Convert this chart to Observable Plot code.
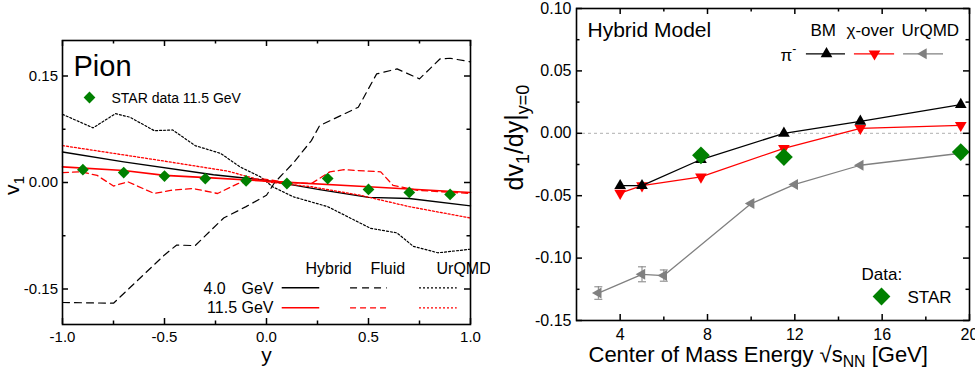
<!DOCTYPE html>
<html><head><meta charset="utf-8">
<script src="https://cdn.jsdelivr.net/npm/d3@7"></script>
<script src="https://cdn.jsdelivr.net/npm/@observablehq/plot@0.6"></script>
<style>
html,body{margin:0;padding:0;background:#fff;}
#wrap{position:relative;width:975px;height:376px;overflow:hidden;background:#fff;}
#wrap svg{position:absolute;top:0;}
</style></head><body><div id="wrap"></div>
<script>
// ===== Left panel: pion v1 versus rapidity y =====
const yHybrid40 = [-1, -0.7, -0.26, 0, 0.26, 0.5, 0.7, 1.0];
const v1Hybrid40 = [0.043, 0.029, 0.011, 0.003, -0.010, -0.021, -0.0225, -0.033];
const yFluid40 = [-1, -0.75, -0.5, -0.44, -0.35, -0.21, -0.1, 0.0, 0.04, 0.13, 0.22, 0.26, 0.45, 0.54, 0.64, 0.75, 0.85, 0.9, 1.0];
const v1Fluid40 = [-0.169, -0.170, -0.102, -0.088, -0.089, -0.050, -0.034, -0.018, 0.0, 0.027, 0.059, 0.080, 0.106, 0.153, 0.160, 0.146, 0.174, 0.175, 0.170];
const yUrqmd40 = [-1, -0.85, -0.74, -0.67, -0.55, -0.46, -0.35, -0.225, -0.13, -0.03, 0.03, 0.13, 0.3, 0.51, 0.64, 0.72, 0.84, 1.0];
const v1Urqmd40 = [0.096, 0.077, 0.097, 0.092, 0.073, 0.074, 0.052, 0.041, 0.022, 0.008, -0.006, -0.020, -0.034, -0.0645, -0.071, -0.090, -0.099, -0.094];
const yHybrid115 = [-1, -0.7, -0.5, -0.27, 0, 0.5, 1.0];
const v1Hybrid115 = [0.022, 0.017, 0.010, 0.0065, 0.002, -0.006, -0.014];
const yFluid115 = [-1, -0.91, -0.83, -0.75, -0.68, -0.55, -0.47, -0.36, -0.24, -0.14, -0.03, 0.1, 0.22, 0.31, 0.38, 0.56, 0.62, 0.74, 1.0];
const v1Fluid115 = [0.014, 0.015, 0.010, -0.005, 0.001, -0.0155, -0.011, -0.0085, -0.0155, -0.0015, 0.0056, 0.0, -0.0015, 0.015, 0.018, 0.015, -0.004, -0.011, -0.0155];
const yUrqmd115 = [-1, -0.52, -0.19, 0, 0.22, 0.46, 0.7, 1.0];
const v1Urqmd115 = [0.052, 0.031, 0.016, 0.001, -0.006, -0.018, -0.034, -0.050];
const yStar115 = [-0.9, -0.7, -0.5, -0.3, -0.1, 0.1, 0.3, 0.5, 0.7, 0.9];
const v1Star115 = [0.018, 0.014, 0.009, 0.0056, 0.0023, -0.0014, 0.0056, -0.0098, -0.014, -0.0168];

const leftXMajor = [-1, -0.5, 0, 0.5, 1];
const leftXMinor = [-0.75, -0.25, 0.25, 0.75];
const leftYMajor = [-0.15, 0, 0.15];
const leftYMinor = [-0.075, 0.075];

// ===== Right panel: dv1/dy at y=0 versus sqrt(sNN) =====
const energyBM = [4, 5, 7.7, 11.5, 15, 19.6];
const slopeBM = [-0.042, -0.042, -0.021, 0.0, 0.0096, 0.023];
const energyChi = [4, 5, 7.7, 11.5, 15, 19.6];
const slopeChi = [-0.048, -0.042, -0.035, -0.012, 0.004, 0.0064];
const energyUrqmd = [3, 5, 6, 10, 12, 15, 19.6];
const slopeUrqmd = [-0.128, -0.113, -0.114, -0.0563, -0.041, -0.0256, -0.016];
const errUrqmd = [0.005, 0.006, 0.0045, 0, 0, 0, 0];
const energyStar = [7.7, 11.5, 19.6];
const slopeStar = [-0.0176, -0.019, -0.015];

const rightXMajor = [4, 8, 12, 16, 20];
const rightXMinor = [6, 10, 14, 18];
const rightYMajor = [-0.15, -0.10, -0.05, 0, 0.05, 0.10];
const rightYMinor = [-0.125, -0.075, -0.025, 0.025, 0.075];

// ===== helpers =====
const FONT = "'Liberation Sans', Arial, Helvetica, sans-serif";
const GREEN = "#008000", RED = "#ff0000", GRAY = "#808080";
const pts = (xs, ys) => xs.map((x, i) => ({x, y: ys[i]}));
const S3 = Math.sqrt(3);
const triDown = {draw(c, size) { const y = -Math.sqrt(size / (S3 * 3)); c.moveTo(0, -y * 2); c.lineTo(-S3 * y, y); c.lineTo(S3 * y, y); c.closePath(); }};
const triLeft = {draw(c, size) { const y = -Math.sqrt(size / (S3 * 3)); c.moveTo(y * 2, 0); c.lineTo(-y, -S3 * y); c.lineTo(-y, S3 * y); c.closePath(); }};
const capBar = {draw(c) { c.moveTo(-4, 0); c.lineTo(4, 0); }};

// inward ticks on all four sides; lengths converted from px to data units
function tickMarks(xMaj, xMin, yMaj, yMin, xDom, yDom, fw, fh) {
  const kx = (xDom[1] - xDom[0]) / fw, ky = (yDom[1] - yDom[0]) / fh;
  const o = {stroke: "black", strokeWidth: 1.5};
  const id = d => d;
  const xs = (t, L) => [
    Plot.ruleX(t, {...o, x: id, y1: yDom[0], y2: yDom[0] + L * ky}),
    Plot.ruleX(t, {...o, x: id, y1: yDom[1], y2: yDom[1] - L * ky})
  ];
  const ys = (t, L) => [
    Plot.ruleY(t, {...o, y: id, x1: xDom[0], x2: xDom[0] + L * kx}),
    Plot.ruleY(t, {...o, y: id, x1: xDom[1], x2: xDom[1] - L * kx})
  ];
  return [...xs(xMaj, 6), ...xs(xMin, 3.5), ...ys(yMaj, 6), ...ys(yMin, 3.5)];
}

function richText(svg) {
  const NS = "http://www.w3.org/2000/svg";
  svg.querySelectorAll("text").forEach(t => {
    const s = t.textContent;
    if (!/[_^]\{/.test(s)) return;
    t.textContent = "";
    let cur = 0;
    const add = (str, kind) => {
      const ts = document.createElementNS(NS, "tspan");
      ts.textContent = str;
      if (kind) {
        const target = kind === "_" ? 0.25 : -0.42;
        ts.setAttribute("font-size", "72%");
        ts.setAttribute("dy", ((target - cur) / 0.72).toFixed(3) + "em");
        cur = target;
      } else if (cur !== 0) {
        ts.setAttribute("dy", (-cur).toFixed(3) + "em");
        cur = 0;
      }
      t.appendChild(ts);
    };
    const re = /([_^])\{([^}]*)\}/g;
    let last = 0, m;
    while ((m = re.exec(s))) {
      if (m.index > last) add(s.slice(last, m.index));
      add(m[2], m[1]);
      last = re.lastIndex;
    }
    if (last < s.length) add(s.slice(last));
  });
}

// ===== Left plot =====
const leftSeries = [
  {xs: yFluid40, ys: v1Fluid40, stroke: "black", dash: "7,5", w: 1.2},
  {xs: yUrqmd40, ys: v1Urqmd40, stroke: "black", dash: "2,2", w: 1.2},
  {xs: yHybrid40, ys: v1Hybrid40, stroke: "black", dash: null, w: 1.4},
  {xs: yFluid115, ys: v1Fluid115, stroke: RED, dash: "6,4", w: 1.3},
  {xs: yUrqmd115, ys: v1Urqmd115, stroke: RED, dash: "2,2", w: 1.3},
  {xs: yHybrid115, ys: v1Hybrid115, stroke: RED, dash: null, w: 1.6}
];

const txt = (s, o) => Plot.text([s], {text: d => d, lineAnchor: "bottom", ...o});
const LX = [-1, 1], LY = [-0.2, 0.2];

const left = Plot.plot({
  width: 490, height: 376,
  marginLeft: 62, marginRight: 20, marginTop: 40, marginBottom: 52,
  x: {domain: LX, label: null},
  y: {domain: LY, label: null},
  style: {fontFamily: FONT, fontSize: "15px", color: "black", background: "white", overflow: "visible"},
  marks: [
    ...leftSeries.map(s => Plot.line(pts(s.xs, s.ys), {x: "x", y: "y", stroke: s.stroke, strokeWidth: s.w, strokeDasharray: s.dash || undefined})),
    Plot.dot(pts(yStar115, v1Star115), {x: "x", y: "y", symbol: "diamond2", r: 5.3, fill: GREEN}),
    // legend
    txt("Pion", {frameAnchor: "top-left", dx: 11, dy: 35, fontSize: 29, textAnchor: "start"}),
    Plot.dot([0], {frameAnchor: "top-left", dx: 27, dy: 57, symbol: "diamond2", r: 5.3, fill: GREEN}),
    txt("STAR data 11.5 GeV", {frameAnchor: "top-left", dx: 49, dy: 62, fontSize: 14, textAnchor: "start"}),
    txt("Hybrid", {frameAnchor: "top-left", dx: 243, dy: 233, fontSize: 16}),
    txt("Fluid", {frameAnchor: "top-left", dx: 308, dy: 233, fontSize: 16}),
    txt("UrQMD", {frameAnchor: "top-left", dx: 374, dy: 233, fontSize: 16}),
    txt("4.0", {frameAnchor: "top-left", dx: 141, dy: 253.5, fontSize: 16, textAnchor: "start"}),
    txt("GeV", {frameAnchor: "top-left", dx: 211, dy: 253.5, fontSize: 16, textAnchor: "end"}),
    txt("11.5 GeV", {frameAnchor: "top-left", dx: 211, dy: 272.7, fontSize: 16, textAnchor: "end"}),
    Plot.ruleY([-0.1483], {x1: 0.077, x2: 0.261, stroke: "black", strokeWidth: 1.4}),
    Plot.ruleY([-0.1483], {x1: 0.412, x2: 0.592, stroke: "black", strokeWidth: 1.2, strokeDasharray: "7,5"}),
    Plot.ruleY([-0.1483], {x1: 0.75, x2: 0.935, stroke: "black", strokeWidth: 1.2, strokeDasharray: "2,2"}),
    Plot.ruleY([-0.1765], {x1: 0.077, x2: 0.261, stroke: RED, strokeWidth: 1.6}),
    Plot.ruleY([-0.1765], {x1: 0.412, x2: 0.592, stroke: RED, strokeWidth: 1.3, strokeDasharray: "6,4"}),
    Plot.ruleY([-0.1765], {x1: 0.75, x2: 0.935, stroke: RED, strokeWidth: 1.3, strokeDasharray: "2,2"}),
    // axes
    Plot.frame({stroke: "black", strokeWidth: 1.6}),
    ...tickMarks(leftXMajor, leftXMinor, leftYMajor, leftYMinor, LX, LY, 408, 284),
    Plot.axisX({ticks: leftXMajor, anchor: "bottom", tickSize: 0, tickPadding: 7, tickFormat: d => d.toFixed(1), label: null, fontSize: 15}),
    Plot.axisY({ticks: leftYMajor, anchor: "left", tickSize: 0, tickPadding: 4.5, tickFormat: d => d.toFixed(2), label: null, fontSize: 15}),
    txt("y", {frameAnchor: "bottom", dy: 37.5, fontSize: 21}),
    txt("v_{1}", {frameAnchor: "left", dx: -44, dy: 12.5, fontSize: 21, rotate: -90})
  ]
});

// ===== Right plot =====
const RX = [2, 20], RY = [-0.15, 0.10];
const right = Plot.plot({
  width: 485, height: 376,
  marginLeft: 86, marginRight: 6, marginTop: 8, marginBottom: 56,
  x: {domain: RX, label: null},
  y: {domain: RY, label: null},
  style: {fontFamily: FONT, fontSize: "16px", color: "black", background: "white", overflow: "visible"},
  marks: [
    Plot.ruleY([0], {stroke: "#b0b0b0", strokeWidth: 1, strokeDasharray: "3,3"}),
    // UrQMD (gray)
    Plot.ruleX(energyUrqmd.map((e, i) => ({e, lo: slopeUrqmd[i] - errUrqmd[i], hi: slopeUrqmd[i] + errUrqmd[i], err: errUrqmd[i]})).filter(d => d.err > 0),
      {x: "e", y1: "lo", y2: "hi", stroke: GRAY, strokeWidth: 1}),
    Plot.dot(energyUrqmd.flatMap((e, i) => errUrqmd[i] > 0 ? [{e, v: slopeUrqmd[i] - errUrqmd[i]}, {e, v: slopeUrqmd[i] + errUrqmd[i]}] : []),
      {x: "e", y: "v", symbol: capBar, r: 3, stroke: GRAY, strokeWidth: 1, fill: "none"}),
    Plot.line(pts(energyUrqmd, slopeUrqmd), {x: "x", y: "y", stroke: GRAY, strokeWidth: 1.3}),
    Plot.dot(pts(energyUrqmd, slopeUrqmd), {x: "x", y: "y", symbol: triLeft, r: 4.1, fill: GRAY}),
    // crossover (red)
    Plot.line(pts(energyChi, slopeChi), {x: "x", y: "y", stroke: RED, strokeWidth: 1.3}),
    Plot.dot(pts(energyChi, slopeChi), {x: "x", y: "y", symbol: triDown, r: 4.35, fill: RED}),
    // BM (black)
    Plot.line(pts(energyBM, slopeBM), {x: "x", y: "y", stroke: "black", strokeWidth: 1.3}),
    Plot.dot(pts(energyBM, slopeBM), {x: "x", y: "y", symbol: "triangle", r: 4.35, fill: "black"}),
    // STAR
    Plot.dot(pts(energyStar, slopeStar), {x: "x", y: "y", symbol: "diamond2", r: 8, fill: GREEN}),
    // legend
    txt("Hybrid Model", {frameAnchor: "top-left", dx: 11, dy: 28.7, fontSize: 21, textAnchor: "start"}),
    txt("BM", {frameAnchor: "top-left", dx: 234, dy: 27, fontSize: 17, textAnchor: "start"}),
    txt("χ-over", {frameAnchor: "top-left", dx: 270, dy: 27, fontSize: 17, textAnchor: "start"}),
    txt("UrQMD", {frameAnchor: "top-left", dx: 325, dy: 27, fontSize: 17, textAnchor: "start"}),
    txt("π^{-}", {frameAnchor: "top-left", dx: 204, dy: 52, fontSize: 17, textAnchor: "start"}),
    Plot.ruleY([0.0637], {x1: 12.53, x2: 14.32, stroke: "black", strokeWidth: 1.3}),
    Plot.ruleY([0.0637], {x1: 14.73, x2: 16.57, stroke: RED, strokeWidth: 1.3}),
    Plot.ruleY([0.0637], {x1: 16.98, x2: 18.81, stroke: GRAY, strokeWidth: 1.3}),
    Plot.dot([0], {frameAnchor: "top-left", dx: 250, dy: 45.3, symbol: "triangle", r: 4.35, fill: "black"}),
    Plot.dot([0], {frameAnchor: "top-left", dx: 298, dy: 45.3, symbol: triDown, r: 4.35, fill: RED}),
    Plot.dot([0], {frameAnchor: "top-left", dx: 347, dy: 45.3, symbol: triLeft, r: 4.1, fill: GRAY}),
    txt("Data:", {frameAnchor: "top-left", dx: 285, dy: 271, fontSize: 17, textAnchor: "start"}),
    Plot.dot([0], {frameAnchor: "top-left", dx: 305, dy: 288, symbol: "diamond2", r: 8, fill: GREEN}),
    txt("STAR", {frameAnchor: "top-left", dx: 331, dy: 294, fontSize: 17, textAnchor: "start"}),
    // axes
    Plot.frame({stroke: "black", strokeWidth: 1.6}),
    ...tickMarks(rightXMajor, rightXMinor, rightYMajor, rightYMinor, RX, RY, 393, 312),
    Plot.axisX({ticks: rightXMajor, anchor: "bottom", tickSize: 0, tickPadding: 8, tickFormat: d => String(d), label: null, fontSize: 16}),
    Plot.axisY({ticks: rightYMajor, anchor: "left", tickSize: 0, tickPadding: 5, tickFormat: d => d.toFixed(2), label: null, fontSize: 16}),
    txt("Center of Mass Energy √s_{NN} [GeV]", {frameAnchor: "bottom-left", dx: 12, dy: 41, fontSize: 22, textAnchor: "start"}),
    txt("dv_{1}/dy|_{y=0}", {frameAnchor: "left", dx: -54, dy: 26, fontSize: 25, rotate: -90})
  ]
});

const wrap = document.getElementById("wrap");
left.style.left = "0px";
right.style.left = "490px";
wrap.appendChild(left);
wrap.appendChild(right);
richText(left);
richText(right);
</script></body></html>
